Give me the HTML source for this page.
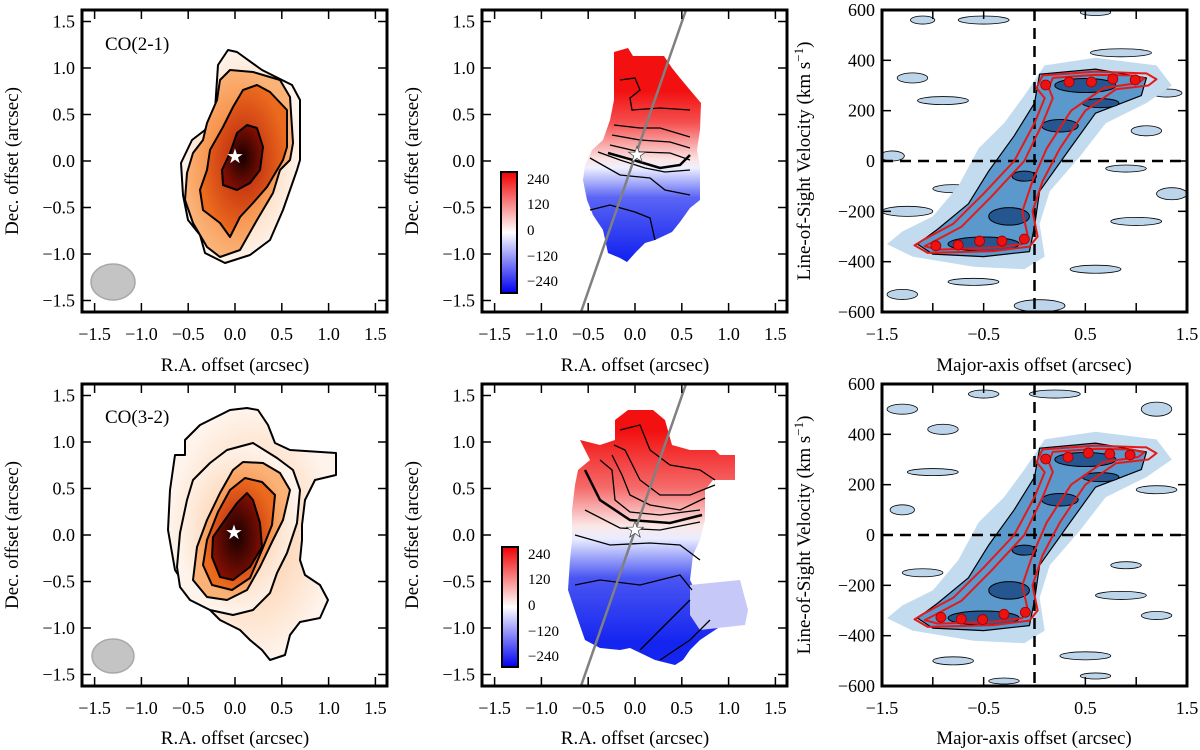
<!DOCTYPE html>
<html><head><meta charset="utf-8"><style>
html,body{margin:0;padding:0;background:#fff}
svg{display:block;font-family:"Liberation Serif",serif}
</style></head><body>
<svg id="fig" width="1200" height="750" viewBox="0 0 1200 750" xmlns="http://www.w3.org/2000/svg">
<defs>
<radialGradient id="g1" cx="50%" cy="50%" r="50%"><stop offset="0" stop-color="#fbc597"/><stop offset="1" stop-color="#fff4ec"/></radialGradient>
<radialGradient id="g2" cx="50%" cy="50%" r="50%"><stop offset="0" stop-color="#f2711f"/><stop offset="1" stop-color="#fbb277"/></radialGradient>
<radialGradient id="g3" cx="50%" cy="50%" r="50%"><stop offset="0" stop-color="#b5200b"/><stop offset="1" stop-color="#ec6a1e"/></radialGradient>
<radialGradient id="g4" cx="50%" cy="50%" r="50%"><stop offset="0" stop-color="#180000"/><stop offset="1" stop-color="#7e0e02"/></radialGradient>
<linearGradient id="vt" x1="0" y1="48" x2="0" y2="262" gradientUnits="userSpaceOnUse"><stop offset="0.2" stop-color="#f21010"/><stop offset="0.35" stop-color="#f55050"/><stop offset="0.52" stop-color="#fbe4e4"/><stop offset="0.56" stop-color="#eef0ff"/><stop offset="0.7" stop-color="#5a64f4"/><stop offset="1" stop-color="#1020f0"/></linearGradient>
<linearGradient id="vb" x1="0" y1="410" x2="0" y2="668" gradientUnits="userSpaceOnUse"><stop offset="0.08" stop-color="#f21010"/><stop offset="0.3" stop-color="#f56a6a"/><stop offset="0.45" stop-color="#fbe8e8"/><stop offset="0.5" stop-color="#e9ecff"/><stop offset="0.65" stop-color="#4a56f2"/><stop offset="0.9" stop-color="#1525f0"/></linearGradient>
<linearGradient id="cb" x1="0" y1="0" x2="0" y2="1"><stop offset="0" stop-color="#f00000"/><stop offset="0.5" stop-color="#ffffff"/><stop offset="1" stop-color="#0000f0"/></linearGradient>
<clipPath id="c3t"><rect x="882" y="10" width="305" height="302"/></clipPath>
<clipPath id="c3b"><rect x="882" y="384" width="305" height="302"/></clipPath>
<clipPath id="c2t"><rect x="482" y="10" width="305" height="302"/></clipPath>
<clipPath id="c2b"><rect x="482" y="384" width="305" height="302"/></clipPath>
</defs>

<!-- Panel 1 top: CO(2-1) intensity -->
<g stroke="#000" stroke-width="2" stroke-linejoin="round">
<path fill="url(#g1)" d="M228,50 L237,52 L262,70 L292,85 L300,100 L300,160 L297,170 L283,210 L270,240 L250,255 L225,263 L205,253 L200,235 L188,220 L183,195 L181,163 L192,140 L205,130 L215,110 L218,65 Z"/>
<path fill="url(#g2)" d="M230,70 L253,72 L280,80 L290,97 L293,143 L290,160 L280,170 L273,193 L257,220 L240,250 L220,257 L207,247 L193,223 L185,200 L187,173 L193,153 L203,140 L207,123 L217,100 L220,80 Z"/>
<path fill="url(#g3)" d="M257,85 L270,92 L287,110 L287,147 L283,160 L267,187 L253,203 L240,217 L230,237 L220,223 L203,210 L200,190 L207,170 L210,150 L223,127 L233,107 L243,90 Z"/>
<path fill="url(#g4)" d="M247,125 L257,128 L263,147 L260,170 L250,183 L237,190 L223,185 L222,170 L230,153 L237,133 Z"/>
<ellipse cx="113" cy="282" rx="22" ry="18" fill="#c4c4c4" stroke="#a8a8a8" stroke-width="1.5"/>
<text x="105" y="50" font-size="19" stroke="none">CO(2-1)</text>
<text x="235" y="163" font-size="20" fill="#fff" stroke="none" text-anchor="middle">★</text>
</g>

<!-- Panel 1 bottom: CO(3-2) -->
<g stroke="#000" stroke-width="2" stroke-linejoin="round">
<path fill="url(#g1)" d="M247,408 L258,410 L268,425 L275,443 L290,450 L336,453 L336,475 L315,480 L305,500 L302,525 L302,540 L300,560 L305,575 L320,585 L328,600 L320,618 L300,622 L290,635 L285,655 L270,660 L262,650 L250,640 L240,630 L220,620 L205,605 L195,600 L188,590 L175,570 L168,530 L170,490 L175,455 L185,455 L185,440 L200,425 L210,420 L230,410 Z"/>
<path fill="url(#g1)" d="M253,443 L277,458 L293,470 L300,490 L297,523 L287,553 L277,573 L270,593 L253,610 L233,615 L210,610 L190,600 L180,587 L177,567 L180,533 L187,500 L193,480 L210,463 L227,450 Z"/>
<path fill="url(#g2)" d="M243,462 L263,463 L280,473 L290,490 L283,520 L273,540 L260,567 L247,590 L227,600 L207,597 L193,580 L197,547 L207,520 L220,493 L233,470 Z"/>
<path fill="url(#g3)" d="M245,478 L262,482 L275,495 L272,525 L262,550 L250,578 L232,590 L212,585 L203,565 L207,540 L218,512 L230,490 Z"/>
<path fill="url(#g4)" d="M247,493 L253,500 L260,523 L262,547 L250,567 L233,580 L220,577 L212,557 L213,537 L227,517 L237,503 Z"/>
<ellipse cx="113" cy="656" rx="21" ry="17" fill="#c4c4c4" stroke="#a8a8a8" stroke-width="1.5"/>
<text x="105" y="423" font-size="19" stroke="none">CO(3-2)</text>
<text x="234" y="539" font-size="20" fill="#fff" stroke="none" text-anchor="middle">★</text>
</g>

<!-- Panel 2 top: velocity field -->
<g clip-path="url(#c2t)">
<path fill="url(#vt)" d="M614,52 L628,48 L633,56 L664,56 L672,68 L680,78 L690,90 L701,103 L700,130 L697,150 L700,165 L700,200 L690,208 L680,222 L672,232 L655,240 L645,243 L636,252 L627,262 L620,258 L608,253 L603,230 L593,215 L587,200 L583,180 L585,165 L592,150 L603,140 L610,120 L614,100 Z"/>
<g fill="none" stroke="#000" stroke-width="1.3">
<path d="M620,80 L635,78 L640,90 L630,98 L632,110 L660,108 L690,110"/>
<path d="M614,125 L640,128 L660,128 L690,137"/>
<path d="M612,135 L640,140 L670,142 L690,148"/>
<path d="M610,145 L640,152 L670,153 L690,160"/>
<path d="M608,153 L640,162 L660,168 L680,165 L690,155" stroke-width="2.5"/>
<path d="M598,152 L620,160 L645,168 L665,172 L690,170"/>
<path d="M590,158 L620,175 L650,178 L665,190 L690,195"/>
<path d="M590,210 L610,205 L635,212 L650,218 L655,240"/>
</g>
<line x1="686" y1="10" x2="581" y2="312" stroke="#808080" stroke-width="2.5"/>
<text x="637" y="162" font-size="22" fill="#fff" stroke="#444" stroke-width="0.7" text-anchor="middle">★</text>
</g>

<!-- Panel 2 bottom -->
<g clip-path="url(#c2b)">
<path fill="url(#vb)" d="M628,410 L653,410 L665,420 L672,445 L690,450 L715,450 L720,455 L735,455 L735,480 L713,480 L705,490 L705,520 L700,540 L693,555 L690,580 L700,600 L710,608 L730,605 L730,620 L715,630 L700,640 L690,650 L683,660 L675,665 L655,660 L630,648 L620,650 L600,648 L585,640 L578,620 L568,590 L570,560 L572,540 L572,510 L575,485 L578,470 L590,460 L580,440 L600,445 L615,440 L615,420 Z"/>
<path d="M690,585 L740,580 L748,610 L745,625 L700,630 L690,615 Z" fill="#c6c8f8"/>
<g fill="none" stroke="#000" stroke-width="1.3">
<path d="M620,430 L640,425 L650,450 L670,465 L700,470 L715,480"/>
<path d="M614,445 L625,450 L640,480 L660,495 L690,495 L715,485"/>
<path d="M612,455 L622,475 L630,495 L650,505 L680,510 L705,498"/>
<path d="M600,460 L612,470 L615,500 L630,512 L660,515 L700,510"/>
<path d="M585,470 L600,500 L630,520 L670,523 L702,515" stroke-width="2.5"/>
<path d="M585,510 L620,528 L660,530 L700,522"/>
<path d="M575,535 L610,545 L650,543 L680,545 L700,560"/>
<path d="M575,585 L600,580 L640,585 L680,575 L692,590"/>
<path d="M640,650 L660,630 L680,610 L690,600"/>
<path d="M660,660 L690,640 L710,620"/>
</g>
<line x1="686" y1="384" x2="581" y2="686" stroke="#808080" stroke-width="2.5"/>
<text x="635" y="537" font-size="22" fill="#fff" stroke="#444" stroke-width="0.7" text-anchor="middle">★</text>
</g>

<!-- colorbars -->
<g font-size="15">
<rect x="501" y="172" width="16" height="121" fill="url(#cb)" stroke="#000" stroke-width="2"/>
<text x="527" y="184">240</text><text x="527" y="209">120</text><text x="527" y="235">0</text><text x="527" y="261">−120</text><text x="527" y="286">−240</text>
</g>
<g font-size="15">
<rect x="502" y="547" width="16" height="120" fill="url(#cb)" stroke="#000" stroke-width="2"/>
<text x="528" y="559">240</text><text x="528" y="584">120</text><text x="528" y="610">0</text><text x="528" y="636">−120</text><text x="528" y="661">−240</text>
</g>

<g id="pvtop" clip-path="url(#c3t)"></g>
<g id="pvbot" clip-path="url(#c3b)"></g>
<g id="axes"></g>

<g font-size="19">
<text x="235" y="371" text-anchor="middle">R.A. offset (arcsec)</text>
<text x="635" y="371" text-anchor="middle">R.A. offset (arcsec)</text>
<text x="1034" y="371" text-anchor="middle">Major-axis offset (arcsec)</text>
<text x="235" y="744" text-anchor="middle">R.A. offset (arcsec)</text>
<text x="635" y="744" text-anchor="middle">R.A. offset (arcsec)</text>
<text x="1034" y="744" text-anchor="middle">Major-axis offset (arcsec)</text>
<text transform="translate(18,161) rotate(-90)" text-anchor="middle">Dec. offset (arcsec)</text>
<text transform="translate(418,161) rotate(-90)" text-anchor="middle">Dec. offset (arcsec)</text>
<text transform="translate(810,161) rotate(-90)" text-anchor="middle">Line-of-Sight Velocity (km s<tspan font-size="13" dy="-7">−1</tspan><tspan dy="7">)</tspan></text>
<text transform="translate(18,535) rotate(-90)" text-anchor="middle">Dec. offset (arcsec)</text>
<text transform="translate(418,535) rotate(-90)" text-anchor="middle">Dec. offset (arcsec)</text>
<text transform="translate(810,535) rotate(-90)" text-anchor="middle">Line-of-Sight Velocity (km s<tspan font-size="13" dy="-7">−1</tspan><tspan dy="7">)</tspan></text>
</g>

<script>
// PV diagram data: rotation curve points (offset arcsec, velocity km/s)
const topOffsets = [-0.97,-0.75,-0.54,-0.32,-0.10,0.11,0.34,0.56,0.77,0.99];
const topVel = [-337,-334,-318,-318,-310,302,314,314,326,322];
const botOffsets = [-0.92,-0.72,-0.51,-0.30,-0.09,0.11,0.33,0.53,0.74,0.94];
const botVel = [-327,-334,-336,-315,-307,302,309,326,322,318];
const mapTicks = [-1.5,-1.0,-0.5,0.0,0.5,1.0,1.5];
const pvXTicks = [-1.5,-0.5,0.5,1.5];
const pvVTicks = [-600,-400,-200,0,200,400,600];
// model contour outlines (offset, velocity)
const outerModel = [[-1.18,-335],[-1.05,-365],[-0.4,-358],[-0.05,-340],[0.03,-300],[-0.02,-200],[0.08,-80],[0.25,50],[0.5,200],[0.8,285],[1.12,300],[1.2,325],[1.1,348],[0.6,355],[0.08,340],[0.02,290],[0.1,250],[0.0,150],[-0.2,0],[-0.5,-130],[-0.8,-250],[-1.1,-315]];
const innerModel = [[-1.08,-338],[-0.95,-352],[-0.4,-345],[-0.12,-330],[-0.07,-290],[-0.12,-200],[-0.02,-80],[0.12,50],[0.36,200],[0.68,290],[1.02,310],[1.08,328],[0.95,340],[0.6,342],[0.18,330],[0.14,290],[0.18,250],[0.08,150],[-0.1,0],[-0.42,-140],[-0.72,-262],[-1.0,-322]];
const bandLight = [[-1.45,-330],[-1.2,-380],[-0.6,-420],[-0.1,-430],[0.1,-380],[0.05,-250],[0.15,-120],[0.45,20],[0.7,150],[1.1,230],[1.35,300],[1.2,380],[0.6,410],[0.1,380],[-0.1,260],[-0.3,150],[-0.55,50],[-0.75,-100],[-1.0,-220],[-1.3,-280]];
const bandMid = [[-1.15,-330],[-1.0,-370],[-0.5,-380],[-0.05,-360],[0.0,-260],[0.05,-120],[0.35,50],[0.6,190],[1.05,260],[1.1,330],[0.6,365],[0.05,345],[0.0,230],[-0.2,100],[-0.45,-40],[-0.65,-170],[-0.95,-270]];
const darkCores = [[0.5,300,0.3,28],[-0.5,-330,0.35,28],[-0.25,-220,0.2,35],[0.25,140,0.18,25],[-0.1,-60,0.12,20],[0.65,230,0.18,18]];
const noiseTop = [[-1.1,560,0.12,8],[0.05,-575,0.25,12],[-1.2,330,0.15,10],[-1.25,-200,0.25,10],[-0.8,-110,0.2,8],[0.85,430,0.3,8],[1.0,-240,0.25,8],[-1.3,-530,0.15,10],[0.6,-430,0.25,8],[1.35,-130,0.15,12],[-0.5,560,0.25,8],[-0.9,240,0.25,8],[1.1,120,0.15,10],[0.6,590,0.15,6],[-1.4,20,0.12,10],[1.3,270,0.15,8],[-0.6,-480,0.25,7],[0.9,-30,0.2,7]];
const noiseBot = [[-0.9,420,0.15,10],[-0.5,560,0.15,8],[1.2,500,0.15,14],[0.2,560,0.25,8],[-1.3,100,0.12,10],[-1.1,-150,0.2,8],[0.85,-240,0.25,8],[1.2,-320,0.15,8],[-0.8,-500,0.2,8],[0.5,-480,0.25,8],[-0.3,-580,0.15,6],[1.2,180,0.2,8],[-1.3,500,0.15,10],[0.9,-120,0.15,7],[-1.0,250,0.25,7],[0.6,-560,0.15,6]];
const NS='http://www.w3.org/2000/svg';
function mk(tag,attrs,parent){const e=document.createElementNS(NS,tag);for(const k in attrs)e.setAttribute(k,attrs[k]);parent.appendChild(e);return e;}
function fmt(v){return (v<0?'−':'')+Math.abs(v).toFixed(1);}
function pv(gid,y0,offs,vels,noise){
  const g=document.getElementById(gid);
  const X=o=>1034.5+o*101.7, Y=v=>y0+151-v*0.2517;
  const pts=a=>a.map(p=>X(p[0]).toFixed(1)+','+Y(p[1]).toFixed(1)).join(' ');
  noise.forEach(n=>{const e=mk('ellipse',{cx:X(n[0]),cy:Y(n[1]),rx:n[2]*101.7,ry:n[3]*0.2517*2,fill:'#bcd5ea',stroke:'#000','stroke-width':0.8},g);
    
    });
  let e=mk('polygon',{points:pts(bandLight),fill:'#c3dbee','stroke-linejoin':'round'},g);
  
  
  e=mk('polygon',{points:pts(bandMid),fill:'#5b98cc',stroke:'#000','stroke-width':1.2,'stroke-linejoin':'round'},g);
  
  
  darkCores.forEach(c=>{const d=mk('ellipse',{cx:X(c[0]),cy:Y(c[1]),rx:c[2]*101.7,ry:c[3]*0.2517,fill:'#25568f',stroke:'#000','stroke-width':1},g);
    
    });
  mk('line',{x1:882,x2:1187,y1:Y(0),y2:Y(0),stroke:'#000','stroke-width':2.5,'stroke-dasharray':'11,7'},g);
  mk('line',{x1:X(0),x2:X(0),y1:y0,y2:y0+302,stroke:'#000','stroke-width':2.5,'stroke-dasharray':'11,7'},g);
  e=mk('polygon',{points:pts(outerModel),fill:'none',stroke:'#e41a1a','stroke-width':2,'stroke-linejoin':'round'},g);
  
  
  e=mk('polygon',{points:pts(innerModel),fill:'none',stroke:'#e41a1a','stroke-width':2,'stroke-linejoin':'round'},g);
  
  
  offs.forEach((o,i)=>{const c=mk('circle',{cx:X(o),cy:Y(vels[i]),r:5,fill:'#ee1111',stroke:'#900','stroke-width':0.8},g);
    
    });
}
pv('pvtop',10,topOffsets,topVel,noiseTop);
pv('pvbot',384,botOffsets,botVel,noiseBot);
const ax=document.getElementById('axes');
function mapAxes(x0,y0){
  mk('rect',{x:x0,y:y0,width:305,height:302,fill:'none',stroke:'#000','stroke-width':3},ax);
  mapTicks.forEach(t=>{
    const x=x0+153+t*93.6, y=y0+151-t*93;
    mk('line',{x1:x,x2:x,y1:y0,y2:y0+9,stroke:'#000','stroke-width':1.5},ax);
    mk('line',{x1:x,x2:x,y1:y0+302,y2:y0+293,stroke:'#000','stroke-width':1.5},ax);
    mk('line',{x1:x0,x2:x0+9,y1:y,y2:y,stroke:'#000','stroke-width':1.5},ax);
    mk('line',{x1:x0+305,x2:x0+296,y1:y,y2:y,stroke:'#000','stroke-width':1.5},ax);
    const tx=mk('text',{x:x,y:y0+330,'font-size':18,'text-anchor':'middle'},ax);tx.textContent=fmt(t);
    
    
    const ty=mk('text',{x:x0-7,y:y+6,'font-size':18,'text-anchor':'end'},ax);ty.textContent=fmt(t);
    
    
  });
}
function pvAxes(y0){
  const x0=882;
  mk('rect',{x:x0,y:y0,width:305,height:302,fill:'none',stroke:'#000','stroke-width':3},ax);
  [-1.0,-0.5,0.5,1.0].forEach(t=>{const x=1034.5+t*101.7;
    mk('line',{x1:x,x2:x,y1:y0,y2:y0+9,stroke:'#000','stroke-width':1.5},ax);
    mk('line',{x1:x,x2:x,y1:y0+302,y2:y0+293,stroke:'#000','stroke-width':1.5},ax);});
  pvXTicks.forEach(t=>{const x=1034.5+t*101.7;
    const tx=mk('text',{x:x,y:y0+330,'font-size':18,'text-anchor':'middle'},ax);tx.textContent=fmt(t);
    
    });
  pvVTicks.forEach(v=>{const y=y0+151-v*0.2517;
    mk('line',{x1:x0,x2:x0+9,y1:y,y2:y,stroke:'#000','stroke-width':1.5},ax);
    mk('line',{x1:x0+305,x2:x0+296,y1:y,y2:y,stroke:'#000','stroke-width':1.5},ax);
    const ty=mk('text',{x:x0-7,y:y+6,'font-size':18,'text-anchor':'end'},ax);ty.textContent=(v<0?'−':'')+Math.abs(v);
    
    });
}
mapAxes(82,10);mapAxes(482,10);mapAxes(82,384);mapAxes(482,384);
pvAxes(10);pvAxes(384);
</script>
</svg>
</body></html>
